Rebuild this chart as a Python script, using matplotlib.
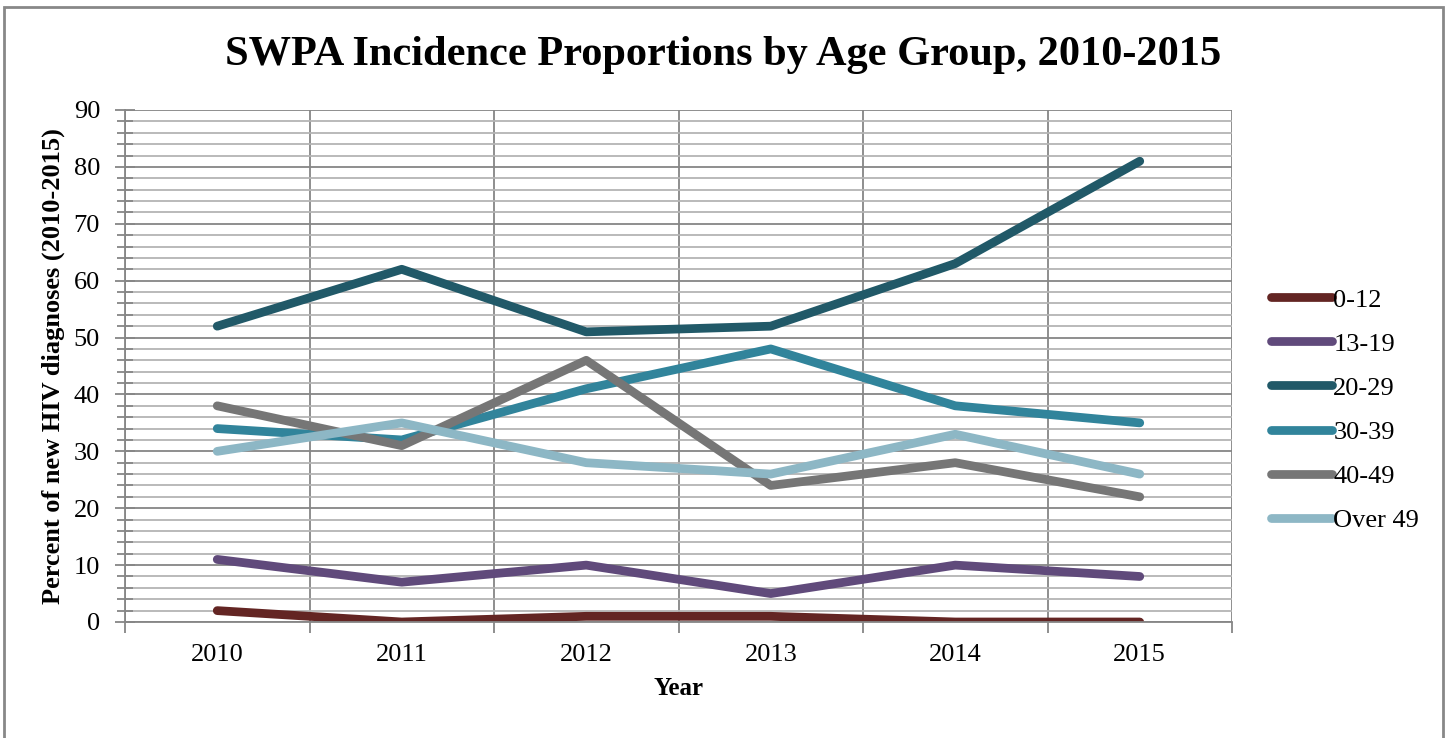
import matplotlib as mpl

mpl.use("Agg")
import matplotlib.pyplot as plt
from matplotlib.patches import Rectangle
from matplotlib.ticker import MultipleLocator, FixedLocator

plt.rcParams["font.family"] = ["Liberation Serif", "DejaVu Serif"]

YEARS = ["2010", "2011", "2012", "2013", "2014", "2015"]
AGE_GROUPS = ["0-12", "13-19", "20-29", "30-39", "40-49", "Over 49"]
AGE_0_12 = [2, 0, 1, 1, 0, 0]
AGE_13_19 = [11, 7, 10, 5, 10, 8]
AGE_20_29 = [52, 62, 51, 52, 63, 81]
AGE_30_39 = [34, 32, 41, 48, 38, 35]
AGE_40_49 = [38, 31, 46, 24, 28, 22]
AGE_OVER_49 = [30, 35, 28, 26, 33, 26]
COLORS = ["#632523", "#604a7b", "#215968", "#31849b", "#767676", "#8db7c5"]

series = [AGE_0_12, AGE_13_19, AGE_20_29, AGE_30_39, AGE_40_49, AGE_OVER_49]

fig = plt.figure(figsize=(14.5, 7.38), dpi=100)
ax = fig.add_axes([125 / 1450, 1 - 622 / 738, (1232 - 125) / 1450, (622 - 110) / 738])

x = list(range(len(YEARS)))
for label, values, color in zip(AGE_GROUPS, series, COLORS):
    ax.plot(x, values, color=color, lw=6.3, solid_capstyle="round",
            solid_joinstyle="round", label=label)

ax.set_xlim(-0.5, len(YEARS) - 0.5)
ax.set_ylim(0, 90)

# category labels sit in the middle of each bin, ticks and grid on the bin edges
ax.set_xticks(x)
ax.set_xticklabels(YEARS, fontsize=19)
ax.xaxis.set_minor_locator(FixedLocator([i - 0.5 for i in range(len(YEARS) + 1)]))
ax.tick_params(axis="x", which="major", length=0, pad=16)
ax.tick_params(axis="x", which="minor", length=8, width=1.3, color="#868686", direction="out")
ax.grid(axis="x", which="minor", color="#868686", lw=1.3)

ax.yaxis.set_major_locator(MultipleLocator(10))
ax.yaxis.set_minor_locator(MultipleLocator(2))
ax.tick_params(axis="y", which="major", labelsize=19, length=14, width=1.3,
               color="#868686", direction="inout", pad=11)
ax.tick_params(axis="y", which="minor", length=12, width=1.3, color="#868686",
               direction="inout")
ax.grid(axis="y", which="major", color="#868686", lw=1.3)
ax.grid(axis="y", which="minor", color="#b4b4b4", lw=1.3)
ax.set_axisbelow(True)

for side in ["top", "right"]:
    ax.spines[side].set_visible(False)
for side in ["left", "bottom"]:
    ax.spines[side].set_color("#868686")
    ax.spines[side].set_linewidth(1.3)

ax.set_xlabel("Year", fontsize=18, fontweight="bold", labelpad=8)
ax.set_ylabel("Percent of new HIV diagnoses (2010-2015)", fontsize=19,
              fontweight="bold", labelpad=6)

fig.text(723 / 1450, 1 - 55 / 738, "SWPA Incidence Proportions by Age Group, 2010-2015",
         fontsize=30.5, fontweight="bold", ha="center", va="center")

ax.legend(loc="center left", bbox_to_anchor=(1258 / 1450, 1 - 410 / 738),
          bbox_transform=fig.transFigure, frameon=False, fontsize=19,
          handlelength=2.3, handletextpad=0.05, labelspacing=0.78, borderpad=0)

fig.patches.append(Rectangle((4 / 1450, -0.01), 1439 / 1450, 1 - 7 / 738 + 0.01,
                             transform=fig.transFigure, fill=False,
                             edgecolor="#888888", lw=2))

fig.savefig("out.png", dpi=100)
